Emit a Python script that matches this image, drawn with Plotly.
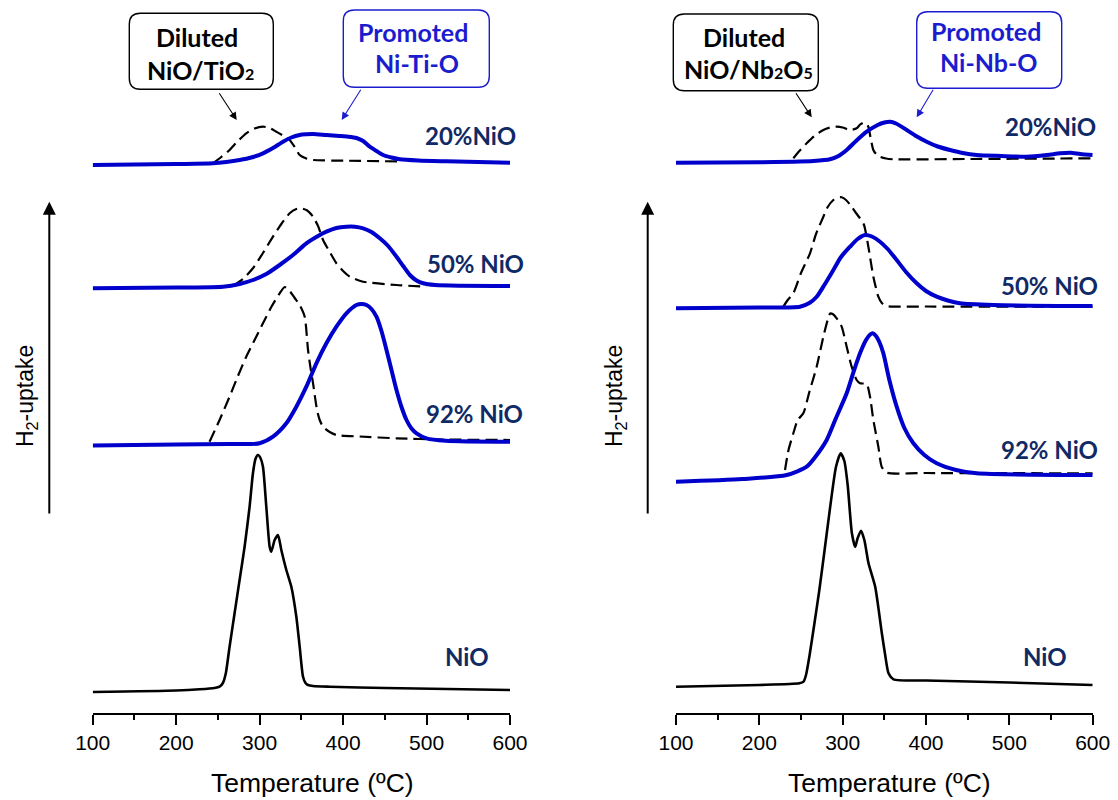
import plotly.graph_objects as go

# ---------------- data (temperature in ºC, H2-uptake in a.u. incl. vertical offsets) ----------------
# Left panel: NiO/TiO2 (dashed, diluted) and Ni-Ti-O (blue, promoted)
T_L_NIO = [100, 200, 228, 246, 252, 256, 259.5, 264, 270, 276, 282, 288, 292, 295, 298, 301, 304, 308, 312,
           314, 318, 322, 326, 332, 338, 344, 348, 352, 355, 358, 364, 384, 450, 600]
V_L_NIO = [21, 22.5, 23.7, 25, 26.3, 30, 39.7, 66.3, 99.7, 133, 166.3, 206.3, 239.7, 254, 258, 255, 246.3,
           206.3, 166.3, 161.3, 173, 178, 163, 143, 126.3, 96.3, 66.3, 36.3, 30, 28, 27, 26.3, 25, 23]

T_L_92_PROM = [100, 200, 264, 300, 316, 332, 344, 356, 368, 380, 392, 404, 416, 422, 428, 434, 440, 446,
               452, 458, 464, 470, 476, 482, 488, 500, 523, 600]
V_L_92_PROM = [267.5, 268.5, 269, 269.7, 276.3, 289.7, 306.3, 326.3, 349.7, 369.7, 386.3, 399.7, 408, 409,
               408, 404, 396.3, 382, 363, 343, 323, 306, 293, 284.5, 279.7, 274.7, 272.3, 271.3]
T_L_92_DIL = [240, 252, 264, 274, 284, 294, 304, 314, 324, 330, 336, 342, 348, 354, 358, 361, 364, 368.8,
              372, 376, 384, 392, 420, 464, 520, 600]
V_L_92_DIL = [271.3, 293, 316.3, 337, 356.3, 373, 389.7, 406, 419.7, 426, 422, 415, 408, 396.3, 363, 345,
              329.7, 303, 293, 286.3, 281, 278, 276.5, 274.7, 273.5, 273]

T_L_50_PROM = [100, 200, 256, 276, 292, 308, 324, 340, 356, 370, 380, 392, 404, 414, 424, 434, 444, 454,
               464, 472, 480, 488, 496, 510, 600]
V_L_50_PROM = [424.7, 425.5, 426.3, 429, 433, 439, 448, 458, 469.7, 477, 481.3, 485, 486.3, 486.3, 484.7,
               481, 474.7, 467, 456.3, 447, 438, 432.5, 429.7, 428, 427]
T_L_50_DIL = [268, 280, 292, 304, 316, 326, 336, 344, 350, 357, 364, 370, 376, 384, 392, 400, 408, 424,
              464, 500]
V_L_50_DIL = [427, 434, 444.7, 460, 476.3, 489, 499.7, 504, 504.7, 502.5, 496.3, 487, 473, 461, 449.7, 442,
              436.3, 431.3, 428, 426.3]

T_L_20_PROM = [100, 200, 244, 260, 276, 290, 304, 316, 328, 338, 348, 356, 364, 380, 396, 406, 416, 424,
               432, 440, 448, 458, 468, 490, 524, 600]
V_L_20_PROM = [548, 549, 549.7, 551, 553, 555.5, 559.7, 565, 571.3, 575.5, 578, 578.7, 579, 578, 577,
               576.3, 575, 572, 566.3, 562, 558, 555.5, 553.7, 552.5, 551.7, 550.3]
T_L_20_DIL = [244, 254, 264, 274, 284, 294, 304, 312, 320, 328, 336, 342, 348, 356, 364, 404, 470]
V_L_20_DIL = [549.7, 556, 563, 572, 579.7, 584.5, 586.3, 585, 581.3, 577.5, 573, 566, 558, 554.5, 553,
              552.3, 551.5]

# Right panel: NiO/Nb2O5 (dashed, diluted) and Ni-Nb-O (blue, promoted)
T_R_NIO = [100, 200, 248, 253, 256, 260, 266, 272, 278, 284, 292, 297.6, 302, 306, 311, 315, 318, 322, 326,
           331, 339, 347, 351, 355, 361, 400, 500, 600]
V_R_NIO = [26.3, 28, 29.7, 31.3, 38, 56.3, 89, 123, 161, 199.7, 246.3, 259.7, 252, 228, 180, 166, 175, 182.3,
           173, 149.7, 126.3, 79.7, 58, 39.7, 33.7, 32.5, 30.5, 28]

T_R_92_PROM = [100, 180, 232.8, 256.8, 268, 280.8, 292, 304.8, 313, 320.8, 328, 333, 336, 340, 344, 348.8,
               356, 364.8, 374, 384.8, 398, 412.8, 436, 460.8, 600]
V_R_92_PROM = [231.3, 234, 238, 246.3, 257, 273, 295, 319.7, 341, 359.7, 373, 378.5, 379.7, 377, 371, 359.7,
               333, 306.3, 285, 269.7, 258, 249.7, 243, 239.7, 238]
T_R_92_DIL = [230.8, 235, 240.8, 246, 252.8, 260, 268.8, 276.8, 282, 285, 288, 292.8, 298.8, 304.8, 310.8,
              316.8, 320.8, 328.8, 332.8, 336.8, 342.8, 346.8, 352.8, 400, 600]
V_R_92_DIL = [243, 263, 279.7, 293, 299.7, 321, 346.3, 376.3, 393, 399.5, 399, 394.7, 386.3, 366.3, 346.3,
              333, 329.7, 329, 316.3, 293, 266.3, 246.3, 240.3, 240, 239.7]

T_R_50_PROM = [100, 200, 248.8, 260, 268.8, 278, 288.8, 298, 308.8, 318, 326.8, 335, 344.8, 354, 364.8, 376,
               388.8, 400, 412.8, 426, 440.8, 480.8, 600]
V_R_50_PROM = [404.7, 405.5, 406.3, 410, 416.3, 428, 443, 456, 466.3, 474, 478, 476.5, 471.3, 464, 453, 441,
               429.7, 422, 416.3, 412.5, 409.7, 408, 407]
T_R_50_DIL = [228.8, 234, 240.8, 250, 260.8, 268, 276.8, 282, 288.8, 294, 298.8, 304, 310.8, 316, 320.8,
              325.6, 330.8, 336.8, 342.8, 347, 352.8, 400, 600]
V_R_50_DIL = [406.3, 413, 419.7, 440, 459.7, 479, 496.3, 506, 513, 515.5, 515.7, 513, 506.3, 500, 494.7, 488,
              466.3, 436.3, 416.3, 410, 407, 406.5, 406.3]

T_R_20_PROM = [100, 200, 240.8, 265, 284.8, 295, 304.8, 316, 328.8, 342, 350, 356.8, 364, 376.8, 388, 400.8,
               414, 428.8, 444, 460.8, 490, 520.8, 545, 560.8, 573, 585, 600]
V_R_20_PROM = [550.3, 550.8, 551.3, 552, 553.7, 557, 563, 572, 581.3, 588, 590.5, 591.3, 589.5, 583, 577,
               571.3, 566.5, 563, 560, 558, 557, 556.3, 558, 559.7, 560.3, 559, 558]
T_R_20_DIL = [240.8, 248, 256.8, 266, 276.8, 285, 292.8, 300, 308.8, 316.8, 321, 324.8, 328, 330.8, 333.5,
              336.8, 340, 344.8, 352, 360.8, 450, 560, 600]
V_R_20_DIL = [554.7, 562, 569.7, 577, 583, 585.5, 586.3, 585.5, 583, 584.7, 588.5, 590.3, 589.5, 586.3, 575,
              563, 559, 556.3, 554.5, 553.7, 554, 554.5, 554.7]

X_TICKS = [100, 200, 300, 400, 500, 600]
LABELS = ["NiO", "92% NiO", "50% NiO", "20%NiO"]

# ---------------- style ----------------
W, H = 1118, 800
PB = 713  # plot-area bottom in pixels
BLUE = "#0000CC"
BOX_BLUE = "#1C1CCF"
NAVY = "#102A66"
BOLD_FONT = "Lato"
REG_FONT = "Liberation Sans, Arial, sans-serif"


def P(px, py):
    return px / W, (PB - py) / PB


fig = go.Figure()

panels = [
    ("x", "y", [(T_L_NIO, V_L_NIO, None, None),
                (T_L_92_DIL, V_L_92_DIL, T_L_92_PROM, V_L_92_PROM),
                (T_L_50_DIL, V_L_50_DIL, T_L_50_PROM, V_L_50_PROM),
                (T_L_20_DIL, V_L_20_DIL, T_L_20_PROM, V_L_20_PROM)]),
    ("x2", "y2", [(T_R_NIO, V_R_NIO, None, None),
                  (T_R_92_DIL, V_R_92_DIL, T_R_92_PROM, V_R_92_PROM),
                  (T_R_50_DIL, V_R_50_DIL, T_R_50_PROM, V_R_50_PROM),
                  (T_R_20_DIL, V_R_20_DIL, T_R_20_PROM, V_R_20_PROM)]),
]

for xa, ya, series in panels:
    for i, (td, vd, tp, vp) in enumerate(series):
        if tp is None:
            fig.add_trace(go.Scatter(x=td, y=vd, mode="lines", xaxis=xa, yaxis=ya, showlegend=False,
                                     line=dict(color="black", width=2.6, shape="spline", smoothing=0.6)))
        else:
            fig.add_trace(go.Scatter(x=td, y=vd, mode="lines", xaxis=xa, yaxis=ya, showlegend=False,
                                     line=dict(color="black", width=2.2, dash="12px,6px",
                                               shape="spline", smoothing=0.6)))
            fig.add_trace(go.Scatter(x=tp, y=vp, mode="lines", xaxis=xa, yaxis=ya, showlegend=False,
                                     line=dict(color=BLUE, width=4, shape="spline", smoothing=0.7)))

xcommon = dict(range=[100, 600], tickvals=X_TICKS, showline=True, linecolor="black", linewidth=2,
               ticks="outside", ticklen=10, tickwidth=2, tickcolor="black", showgrid=False, zeroline=False,
               automargin=False,
               tickfont=dict(family=REG_FONT, size=21, color="black"),
               minor=dict(dtick=50, tick0=100, ticks="outside", ticklen=5, tickwidth=2, tickcolor="black"))
ycommon = dict(range=[0, PB], visible=False, showgrid=False, zeroline=False, automargin=False)

fig.update_layout(
    width=W, height=H, paper_bgcolor="white", plot_bgcolor="white",
    margin=dict(l=0, r=0, t=0, b=H - PB, autoexpand=False),
    xaxis=dict(domain=[92.7 / W, 510 / W], anchor="y", **xcommon),
    xaxis2=dict(domain=[676 / W, 1092.7 / W], anchor="y2", **xcommon),
    yaxis=dict(domain=[0, 1], anchor="x", **ycommon),
    yaxis2=dict(domain=[0, 1], anchor="x2", **ycommon),
)

ann = []
# curve labels
label_pos = {
    "x": [(549, 57), (557, 299.7), (559, 449.7), (552.5, 578)],
    "x2": [(543, 57), (548, 263.7), (548, 428), (549.7, 586.3)],
}
for xa, ya in (("x", "y"), ("x2", "y2")):
    for lab, (tx, vy) in zip(LABELS, label_pos[xa]):
        ann.append(dict(x=tx, y=vy, xref=xa, yref=ya, text=lab, showarrow=False, xanchor="center",
                        yanchor="middle", font=dict(family=BOLD_FONT, size=24, color=NAVY, weight="bold")))

# axis titles
for cx in (312.5, 889):
    x, y = P(cx, 783)
    ann.append(dict(x=x, y=y, xref="paper", yref="paper", text="Temperature (ºC)", showarrow=False,
                    xanchor="center", yanchor="middle", font=dict(family=REG_FONT, size=26.5, color="black")))

# H2-uptake arrows and labels
for ax_px, lab_px in ((49.3, 26), (647.7, 615)):
    x, y = P(ax_px, 201.7)
    ann.append(dict(x=x, y=y, xref="paper", yref="paper", text="", showarrow=True, ax=0, ay=313.3,
                    arrowhead=2, arrowsize=1.3, arrowwidth=2, arrowcolor="black", standoff=0))
    x, y = P(lab_px, 396)
    ann.append(dict(x=x, y=y, xref="paper", yref="paper", text="H<sub>2</sub>-uptake", showarrow=False,
                    textangle=-90, xanchor="center", yanchor="middle",
                    font=dict(family=REG_FONT, size=23, color="black")))

# callout boxes
SUB = "<span style='font-size:16px'>{}</span>"
boxes = [
    ((129.3, 13.3, 273.3, 89.3), "black", [("Diluted", 197, 36.5), ("NiO/TiO" + SUB.format("2"), 200.8, 70.5)],
     (218.3, 91.7, 236.7, 120), "black"),
    ((343.3, 10, 489.3, 87.3), BOX_BLUE, [("Promoted", 413.3, 32), ("Ni-Ti-O", 416.7, 63.5)],
     (361.7, 88.3, 341.7, 120), BOX_BLUE),
    ((673.3, 14, 818.3, 90.7), "black",
     [("Diluted", 744, 36.5), ("NiO/Nb" + SUB.format("2") + "O" + SUB.format("5"), 748.3, 68.5)],
     (795, 91.7, 811.7, 117.3), "black"),
    ((916.7, 11.7, 1061.7, 88.3), BOX_BLUE, [("Promoted", 985.5, 31.5), ("Ni-Nb-O", 989, 62.5)],
     (934, 88.3, 916.7, 117.3), BOX_BLUE),
]

shapes = []


def rrect(x0, y0, x1, y1, r):
    def p(a, b):
        u, v = P(a, b)
        return f"{u:.5f},{v:.5f}"
    return (f"M {p(x0 + r, y0)} L {p(x1 - r, y0)} Q {p(x1, y0)} {p(x1, y0 + r)} "
            f"L {p(x1, y1 - r)} Q {p(x1, y1)} {p(x1 - r, y1)} L {p(x0 + r, y1)} "
            f"Q {p(x0, y1)} {p(x0, y1 - r)} L {p(x0, y0 + r)} Q {p(x0, y0)} {p(x0 + r, y0)} Z")


for (bx0, by0, bx1, by1), bcol, texts, (tx0, ty0, tx1, ty1), acol in boxes:
    shapes.append(dict(type="path", xref="paper", yref="paper", path=rrect(bx0, by0, bx1, by1, 11),
                       line=dict(color=bcol, width=1.4), fillcolor="white", layer="above"))
    tcol = "black" if bcol == "black" else BOX_BLUE
    for t, cx, cy in texts:
        x, y = P(cx, cy)
        ann.append(dict(x=x, y=y, xref="paper", yref="paper", text=t, showarrow=False, xanchor="center",
                        yanchor="middle", font=dict(family=BOLD_FONT, size=25, color=tcol, weight="bold")))
    x, y = P(tx1, ty1)
    ann.append(dict(x=x, y=y, xref="paper", yref="paper", text="", showarrow=True, ax=tx0 - tx1,
                    ay=ty0 - ty1, arrowhead=2, arrowsize=1.4, arrowwidth=1.1, arrowcolor=acol, standoff=0))

fig.update_layout(annotations=ann, shapes=shapes)
fig.write_html("out.html")
